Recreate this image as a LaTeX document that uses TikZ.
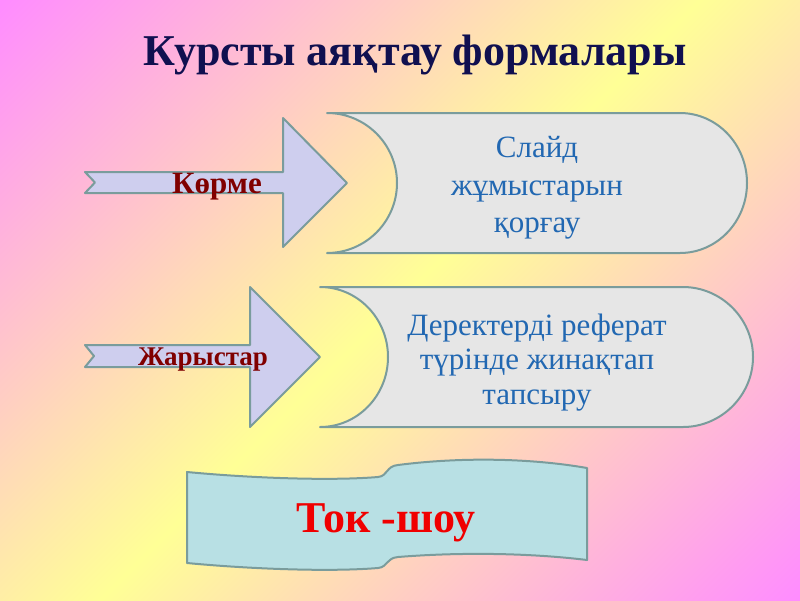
\documentclass[tikz,border=0pt]{standalone}
\usepackage{fontspec}
\setmainfont{Liberation Serif}
\definecolor{bgpink}{RGB}{255,140,255}
\definecolor{bgyellow}{RGB}{255,255,150}
\definecolor{edgecol}{RGB}{122,156,156}
\definecolor{arrowfill}{RGB}{206,206,238}
\definecolor{boxfill}{RGB}{230,230,230}
\definecolor{bannerfill}{RGB}{184,224,228}
\definecolor{titlecol}{RGB}{16,16,80}
\definecolor{labelcol}{RGB}{128,0,0}
\definecolor{textblue}{RGB}{34,104,178}
\definecolor{showred}{RGB}{240,0,0}
\pgfdeclareverticalshading{bgshade}{100bp}{color(0bp)=(bgpink); color(14.6bp)=(bgpink); color(50bp)=(bgyellow); color(85.4bp)=(bgpink); color(100bp)=(bgpink)}
\tikzset{
  shapeedge/.style={draw=edgecol, line width=2pt, line join=round},
  arrowshape/.style={shapeedge, fill=arrowfill},
  boxshape/.style={shapeedge, fill=boxfill},
  bannershape/.style={shapeedge, fill=bannerfill},
  titletext/.style={font=\fontsize{44}{52}\selectfont\bfseries, text=titlecol, inner sep=0pt},
  arrowlabel/.style={font=\fontsize{27}{32}\selectfont\bfseries, text=labelcol, inner sep=0pt},
  boxtext/.style={font=\fontsize{31}{36}\selectfont, text=textblue, align=center, inner sep=0pt},
  bannertext/.style={font=\fontsize{44}{50}\selectfont\bfseries, text=showred, inner sep=0pt}
}
\begin{document}
\begin{tikzpicture}[x=1pt, y=-1pt]
\useasboundingbox (0,0) rectangle (800,600);
\shade[shading=bgshade, shading angle=45] (0,0) rectangle (800,600);

% title
\node[titletext, anchor=base] (title) at (415,65) {Курсты аяқтау формалары};

% arrow 1
\path[arrowshape] (85,172) -- (283,172) -- (283,118) -- (347,183) -- (283,247) -- (283,193) -- (85,193) -- (95,182.5) -- cycle;
\node[arrowlabel, anchor=base, font=\fontsize{31}{34}\selectfont\bfseries] (korme) at (217,193) {Көрме};

% arrow 2
\path[arrowshape] (85,345) -- (250,345) -- (250,287) -- (320,357) -- (250,427) -- (250,367) -- (85,367) -- (94,356) -- cycle;
\node[arrowlabel, anchor=base] (zharystar) at (203,365) {Жарыстар};

% box 1
\path[boxshape] (327,113) -- (680,113) .. controls (717,113) and (747,144.4) .. (747,183) .. controls (747,221.6) and (717,253) .. (680,253) -- (327,253) .. controls (365.6,253) and (397,221.6) .. (397,183) .. controls (397,144.4) and (365.6,113) .. (327,113) -- cycle;
\node[boxtext, anchor=base] (b1l1) at (537,157) {Слайд};
\node[boxtext, anchor=base] (b1l2) at (537,195) {жұмыстарын};
\node[boxtext, anchor=base] (b1l3) at (537,232) {қорғау};

% box 2
\path[boxshape] (320,287) -- (683,287) .. controls (721,287) and (753,318.4) .. (753,357) .. controls (753,395.6) and (721,427) .. (683,427) -- (320,427) .. controls (357.6,427) and (388,395.6) .. (388,357) .. controls (388,318.4) and (357.6,287) .. (320,287) -- cycle;
\node[boxtext, anchor=base] (b2l1) at (537,335) {Деректерді реферат};
\node[boxtext, anchor=base] (b2l2) at (537,369) {түрінде жинақтап};
\node[boxtext, anchor=base] (b2l3) at (537,404) {тапсыру};

% banner
\path[bannershape] (187,472) .. controls (250,478) and (330,481) .. (378,477) .. controls (388,476) and (386,466) .. (398,465) .. controls (460,457) and (530,458) .. (587,468) -- (587,560) .. controls (530,553) and (460,552) .. (398,557) .. controls (386,558) and (388,567) .. (378,568) .. controls (330,572) and (250,569) .. (187,563) -- cycle;
\node[bannertext, anchor=base] (tokshow) at (386,532) {Ток -шоу};
\end{tikzpicture}
\end{document}
